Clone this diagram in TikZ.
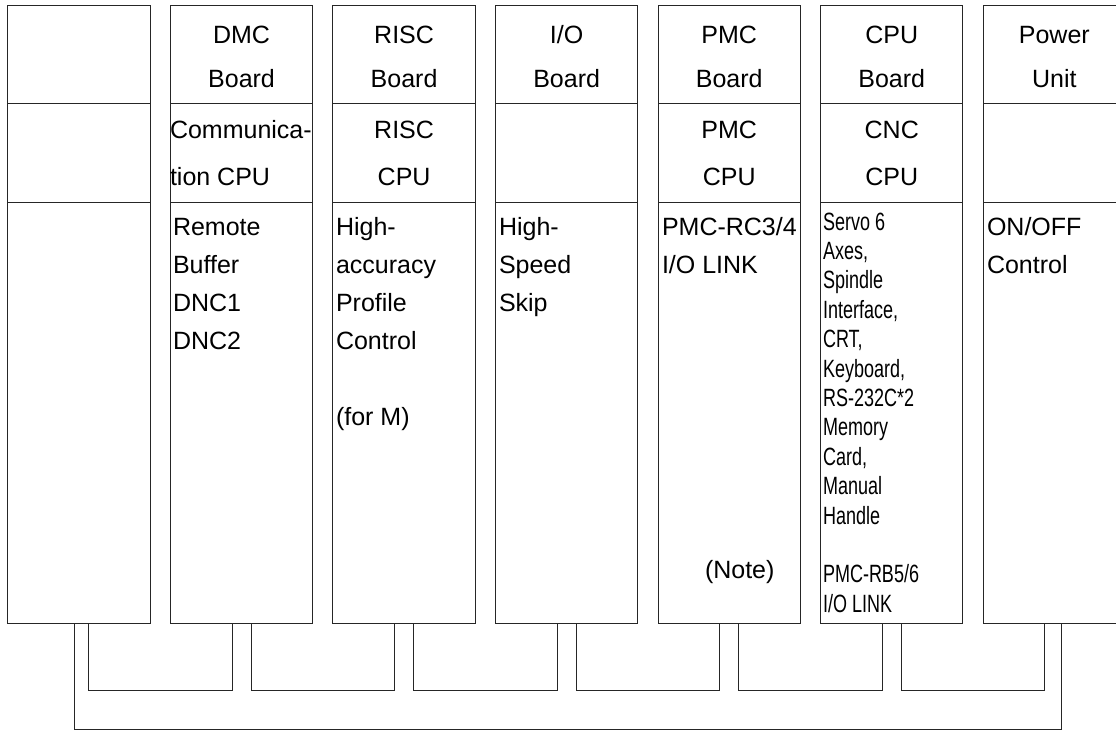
\documentclass[tikz,border=0pt]{standalone}
\usepackage{fontspec}
\usepackage{graphicx}
\setmainfont{Liberation Sans}
\usetikzlibrary{calc}
\tikzset{
  ln/.style={line width=1pt, draw=black!85},
  board/.style={ln, rectangle, minimum width=142.3pt, minimum height=618.3pt, inner sep=0pt, outer sep=0pt},
  txt/.style={font=\fontsize{25}{30}\selectfont, inner sep=0pt, outer sep=0pt, text=black},
  ctr/.style={txt, anchor=base},
  lft/.style={txt, anchor=base west},
}
\newcommand{\cpt}[1]{\scalebox{0.72}[1]{#1}}
\begin{document}
\begin{tikzpicture}[x=1pt, y=-1pt]
\useasboundingbox (0,0) rectangle (1116,731);
% boards
\foreach \i in {1,...,7} {
  \node[board] (b\i) at ({79+162.55*(\i-1)},314.15) {};
  \draw[ln] (b\i.west |- 0,103) -- (b\i.east |- 0,103);
  \draw[ln] (b\i.west |- 0,202) -- (b\i.east |- 0,202);
}
% connectors
\foreach \i/\j in {1/2,2/3,3/4,4/5,5/6,6/7} {
  \draw[ln] ([xshift=9.5pt]b\i.south) -- ++(0,67.4) -| ([xshift=-9.5pt]b\j.south);
}
\draw[ln] ([xshift=-4.7pt]b1.south) -- ++(0,106) -| ([xshift=6.7pt]b7.south);
% top labels
\node[ctr] (h2a) at (241.55,43.3) {DMC};   \node[ctr] (h2b) at (241.55,87.3) {Board};
\node[ctr] (h3a) at (404.1,43.3) {RISC};   \node[ctr] (h3b) at (404.1,87.3) {Board};
\node[ctr] (h4a) at (566.65,43.3) {I/O};   \node[ctr] (h4b) at (566.65,87.3) {Board};
\node[ctr] (h5a) at (729.2,43.3) {PMC};    \node[ctr] (h5b) at (729.2,87.3) {Board};
\node[ctr] (h6a) at (891.75,43.3) {CPU};   \node[ctr] (h6b) at (891.75,87.3) {Board};
\node[ctr] (h7a) at (1054.3,43.3) {Power}; \node[ctr] (h7b) at (1054.3,87.3) {Unit};
% cpu row
\node[lft] (m2a) at (170,138.3) {Communica-}; \node[lft] (m2b) at (170,185) {tion CPU};
\node[ctr] (m3a) at (404.1,138.3) {RISC};  \node[ctr] (m3b) at (404.1,185) {CPU};
\node[ctr] (m5a) at (729.2,138.3) {PMC};   \node[ctr] (m5b) at (729.2,185) {CPU};
\node[ctr] (m6a) at (891.75,138.3) {CNC};  \node[ctr] (m6b) at (891.75,185) {CPU};
% function row
\node[lft] (f2a) at (173,235) {Remote};
\node[lft] (f2b) at (173,273) {Buffer};
\node[lft] (f2c) at (173,311) {DNC1};
\node[lft] (f2d) at (173,349) {DNC2};
\node[lft] (f3a) at (336,235) {High-};
\node[lft] (f3b) at (336,273) {accuracy};
\node[lft] (f3c) at (336,311) {Profile};
\node[lft] (f3d) at (336,349) {Control};
\node[lft] (f3e) at (336,425) {(for M)};
\node[lft] (f4a) at (499,235) {High-};
\node[lft] (f4b) at (499,273) {Speed};
\node[lft] (f4c) at (499,311) {Skip};
\node[lft] (f5a) at (662,235) {PMC-RC3/4};
\node[lft] (f5b) at (662,273) {I/O LINK};
\node[lft] (f5c) at (705,578) {(Note)};
\node[lft] (f6a) at (823,230) {\cpt{Servo 6}};
\node[lft] (f6b) at (823,259.4) {\cpt{Axes,}};
\node[lft] (f6c) at (823,288.8) {\cpt{Spindle}};
\node[lft] (f6d) at (823,318.2) {\cpt{Interface,}};
\node[lft] (f6e) at (823,347.6) {\cpt{CRT,}};
\node[lft] (f6f) at (823,377) {\cpt{Keyboard,}};
\node[lft] (f6g) at (823,406.4) {\cpt{RS-232C*2}};
\node[lft] (f6h) at (823,435.8) {\cpt{Memory}};
\node[lft] (f6i) at (823,465.2) {\cpt{Card,}};
\node[lft] (f6j) at (823,494.6) {\cpt{Manual}};
\node[lft] (f6k) at (823,524) {\cpt{Handle}};
\node[lft] (f6l) at (823,582.8) {\cpt{PMC-RB5/6}};
\node[lft] (f6m) at (823,612.2) {\cpt{I/O LINK}};
\node[lft] (f7a) at (987,235) {ON/OFF};
\node[lft] (f7b) at (987,273) {Control};
\end{tikzpicture}
\end{document}
